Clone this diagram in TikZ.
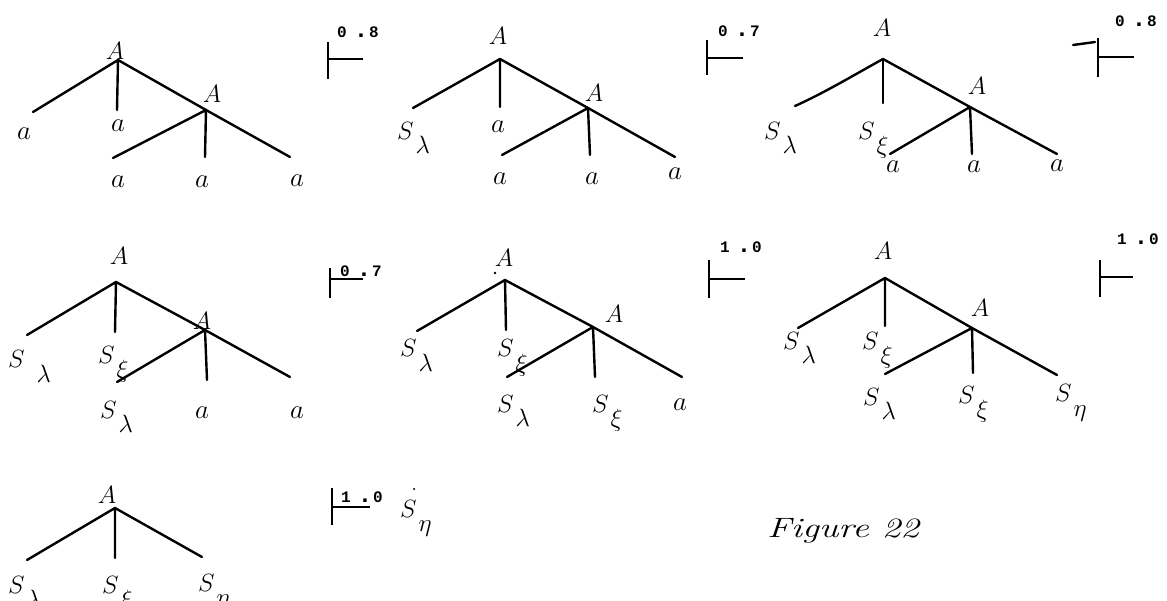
\RequirePackage{fix-cm}
\documentclass[tikz,border=0pt]{standalone}
\usepackage{fontspec}
\newfontfamily\probfont{Liberation Mono}
\tikzset{
  edge/.style={line width=2.4pt, line cap=round, line join=round},
  bar/.style={line width=2.7pt},
  lbl/.style={inner sep=0pt, font=\fontsize{25}{28}\selectfont},
  lb/.style={lbl, anchor=base},
  la/.style={inner sep=0pt, anchor=base, font=\fontsize{27}{30}\selectfont},
  lw/.style={lbl, anchor=base west},
  num/.style={inner sep=0pt, anchor=base west, font=\fontsize{16}{17}\selectfont\probfont\bfseries},
}
\newcommand\Sx[1]{$S$\kern2pt\raisebox{-14pt}{$#1$}}
\newcommand\prob[2]{#1\kern7pt{\fontsize{24}{24}\selectfont.}\kern1pt#2}
\begin{document}
\begin{tikzpicture}[x=1pt,y=-1pt]
\useasboundingbox (0,0) rectangle (1167,601);

% ---------- Tree 1 ----------
\coordinate (r1) at (118,60); \coordinate (r1l) at (33,112); \coordinate (r1m) at (117,110);
\coordinate (i1) at (206,110); \coordinate (i1l) at (113,158); \coordinate (i1m) at (205,157); \coordinate (i1r) at (290,157);
\draw[edge] (r1l) -- (r1) -- (r1m);
\draw[edge] (r1) -- (i1) -- (i1r);
\draw[edge] (i1l) -- (i1) -- (i1m);
\node[lb] (t1A) at (115,60) {$A$};
\node[lb] (t1B) at (212,103) {$A$};
\node[la] (t1a1) at (24,140) {$a$};
\node[la] (t1a2) at (118,132) {$a$};
\node[la] (t1a3) at (118,188) {$a$};
\node[la] (t1a4) at (202,188) {$a$};
\node[la] (t1a5) at (297,187) {$a$};
\coordinate (v1t) at (328,42); \coordinate (v1b) at (328,79); \coordinate (h1a) at (328,59); \coordinate (h1b) at (363,59);
\draw[bar] (v1t) -- (v1b); \draw[bar] (h1a) -- (h1b);
\node[num] (p1) at (337,38) {\prob{0}{8}};

% ---------- Tree 2 ----------
\coordinate (r2) at (500,59); \coordinate (r2l) at (413,108); \coordinate (r2m) at (500,107);
\coordinate (i2) at (588,108); \coordinate (i2l) at (502,155); \coordinate (i2m) at (590,155); \coordinate (i2r) at (675,157);
\draw[edge] (r2l) -- (r2) -- (r2m);
\draw[edge] (r2) -- (i2) -- (i2r);
\draw[edge] (i2l) -- (i2) -- (i2m);
\node[lb] (t2A) at (498,45) {$A$};
\node[lb] (t2B) at (594,102) {$A$};
\node[lw] (t2s1) at (397,140) {\Sx{\lambda}};
\node[la] (t2a2) at (498,133) {$a$};
\node[la] (t2a3) at (500,185) {$a$};
\node[la] (t2a4) at (592,185) {$a$};
\node[la] (t2a5) at (675,180) {$a$};
\coordinate (v2t) at (707,40); \coordinate (v2b) at (707,75); \coordinate (h2a) at (707,58); \coordinate (h2b) at (743,58);
\draw[bar] (v2t) -- (v2b); \draw[bar] (h2a) -- (h2b);
\node[num] (p2) at (718,37) {\prob{0}{7}};

% ---------- Tree 3 ----------
\coordinate (r3) at (883,59); \coordinate (r3l) at (795,106); \coordinate (r3m) at (883,103);
\coordinate (i3) at (970,107); \coordinate (i3l) at (890,154); \coordinate (i3m) at (972,154); \coordinate (i3r) at (1057,154);
\draw[edge] (r3) .. controls (854,75) and (824,93) .. (r3l);
\draw[edge] (r3) -- (r3m);
\draw[edge] (r3) -- (i3) -- (i3r);
\draw[edge] (i3l) -- (i3) -- (i3m);
\node[lb] (t3A) at (882,37) {$A$};
\node[lb] (t3B) at (977,95) {$A$};
\node[lw] (t3s1) at (764,140) {\Sx{\lambda}};
\node[lw] (t3s2) at (858,140) {\Sx{\xi}};
\node[la] (t3a3) at (893,173) {$a$};
\node[la] (t3a4) at (974,173) {$a$};
\node[la] (t3a5) at (1057,172) {$a$};
\coordinate (v3t) at (1098,38); \coordinate (v3b) at (1098,77); \coordinate (h3a) at (1098,57); \coordinate (h3b) at (1134,57);
\coordinate (k3a) at (1073,45); \coordinate (k3b) at (1095,42);
\draw[bar] (v3t) -- (v3b); \draw[bar] (h3a) -- (h3b);
\draw[edge] (k3a) -- (k3b);
\node[num] (p3) at (1115,27) {\prob{0}{8}};

% ---------- Tree 4 ----------
\coordinate (r4) at (116,282); \coordinate (r4l) at (27,335); \coordinate (r4m) at (115,332);
\coordinate (i4) at (205,330); \coordinate (i4l) at (117,382); \coordinate (i4m) at (207,380); \coordinate (i4r) at (290,377);
\draw[edge] (r4l) -- (r4) -- (r4m);
\draw[edge] (r4) -- (i4) -- (i4r);
\draw[edge] (i4l) -- (i4) -- (i4m);
\node[lb] (t4A) at (119,265) {$A$};
\node[lb] (t4B) at (202,330) {$A$};
\node[lw] (t4s1) at (8,368) {$S$\kern12pt\raisebox{-14pt}{$\lambda$}};
\node[lw] (t4s2) at (98,363) {\Sx{\xi}};
\node[lw] (t4s3) at (100,418) {\Sx{\lambda}};
\node[la] (t4a4) at (202,418) {$a$};
\node[la] (t4a5) at (297,418) {$a$};
\coordinate (v4t) at (330,268); \coordinate (v4b) at (330,298); \coordinate (h4a) at (330,279); \coordinate (h4b) at (363,279);
\draw[bar] (v4t) -- (v4b); \draw[bar] (h4a) -- (h4b);
\node[num] (p4) at (340,277) {\prob{0}{7}};

% ---------- Tree 5 ----------
\coordinate (r5) at (505,280); \coordinate (r5l) at (417,331); \coordinate (r5m) at (506,330);
\coordinate (i5) at (593,327); \coordinate (i5l) at (507,377); \coordinate (i5m) at (595,377); \coordinate (i5r) at (682,377);
\draw[edge] (r5l) -- (r5) -- (r5m);
\draw[edge] (r5) -- (i5) -- (i5r);
\draw[edge] (i5l) -- (i5) -- (i5m);
\node[lb] (t5A) at (504,267) {$A$};
\coordinate (t5dot) at (495,273);
\fill (t5dot) circle (1.4pt);
\node[lb] (t5B) at (614,323) {$A$};
\node[lw] (t5s1) at (400,357) {\Sx{\lambda}};
\node[lw] (t5s2) at (497,357) {\Sx{\xi}};
\node[lw] (t5s3) at (497,412) {\Sx{\lambda}};
\node[lw] (t5s4) at (592,412) {\Sx{\xi}};
\node[la] (t5a5) at (680,410) {$a$};
\coordinate (v5t) at (709,260); \coordinate (v5b) at (709,298); \coordinate (h5a) at (709,279); \coordinate (h5b) at (745,279);
\draw[bar] (v5t) -- (v5b); \draw[bar] (h5a) -- (h5b);
\node[num] (p5) at (720,253) {\prob{1}{0}};

% ---------- Tree 6 ----------
\coordinate (r6) at (885,278); \coordinate (r6l) at (798,328); \coordinate (r6m) at (885,326);
\coordinate (i6) at (972,328); \coordinate (i6l) at (885,374); \coordinate (i6m) at (973,373); \coordinate (i6r) at (1057,375);
\draw[edge] (r6l) -- (r6) -- (r6m);
\draw[edge] (r6) -- (i6) -- (i6r);
\draw[edge] (i6l) -- (i6) -- (i6m);
\node[lb] (t6A) at (883,260) {$A$};
\node[lb] (t6B) at (980,317) {$A$};
\node[lw] (t6s1) at (783,350) {\Sx{\lambda}};
\node[lw] (t6s2) at (862,350) {\Sx{\xi}};
\node[lw] (t6s3) at (863,405) {\Sx{\lambda}};
\node[lw] (t6s4) at (958,403) {\Sx{\xi}};
\node[lw] (t6s5) at (1055,402) {\Sx{\eta}};
\coordinate (v6t) at (1100,260); \coordinate (v6b) at (1100,297); \coordinate (h6a) at (1100,277); \coordinate (h6b) at (1133,277);
\draw[bar] (v6t) -- (v6b); \draw[bar] (h6a) -- (h6b);
\node[num] (p6) at (1117,245) {\prob{1}{0}};

% ---------- Tree 7 ----------
\coordinate (r7) at (115,508); \coordinate (r7l) at (27,560); \coordinate (r7m) at (115,558); \coordinate (r7r) at (202,557);
\draw[edge] (r7l) -- (r7) -- (r7m);
\draw[edge] (r7) -- (r7r);
\node[lb] (t7A) at (107,503) {$A$};
\node[lw] (t7s1) at (8,593) {\Sx{\lambda}};
\node[lw] (t7s2) at (102,593) {\Sx{\xi}};
\node[lw] (t7s3) at (198,591) {\Sx{\eta}};
\coordinate (v7t) at (332,488); \coordinate (v7b) at (332,525); \coordinate (h7a) at (332,507); \coordinate (h7b) at (370,507);
\draw[bar] (v7t) -- (v7b); \draw[bar] (h7a) -- (h7b);
\node[num] (p7) at (341,502) {\prob{1}{0}};
\node[lw] (t7res) at (400,517) {\rlap{\kern11pt\raisebox{27pt}{.}}\Sx{\eta}};

% ---------- caption ----------
\node[lbl, anchor=base west, font=\fontsize{28}{32}\selectfont\itshape] (cap) at (767,537) {\scalebox{1.33}[1]{Figure 22}};
\end{tikzpicture}
\end{document}
